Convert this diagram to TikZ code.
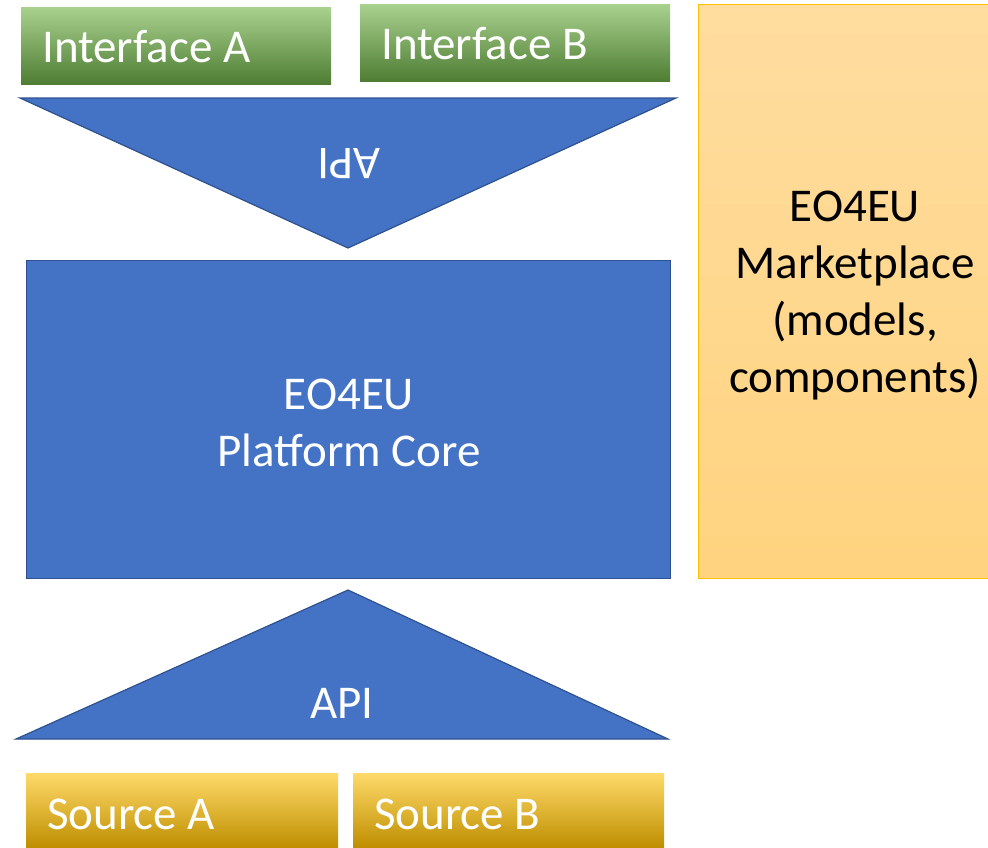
\documentclass[tikz,border=0pt]{standalone}
\usepackage{fontspec}
\setmainfont{Carlito}
\definecolor{gtop}{HTML}{A9D18E}
\definecolor{gmid}{HTML}{70AD47}
\definecolor{gbot}{HTML}{4E7D33}
\definecolor{ytop}{HTML}{FFDA6A}
\definecolor{ymid}{HTML}{FFC000}
\definecolor{ybot}{HTML}{BF8F00}
\definecolor{blu}{HTML}{4472C4}
\definecolor{bluedge}{HTML}{2F528F}
\definecolor{otop}{HTML}{FFDDA0}
\definecolor{obot}{HTML}{FFD37F}
\definecolor{oedge}{HTML}{FFC000}
\tikzset{
  bigfont/.style={font=\fontsize{47}{57}\selectfont},
  gbox/.style={rectangle, anchor=north west, inner sep=0pt, top color=gtop, middle color=gmid, bottom color=gbot, minimum width=310pt, minimum height=77pt},
  ybox/.style={rectangle, anchor=north west, inner sep=0pt, top color=ytop, middle color=ymid, bottom color=ybot, minimum height=74pt},
  boxtext/.style={bigfont, text=white, anchor=base west, inner sep=0pt},
  blueshape/.style={fill=blu, draw=bluedge, line width=1.2pt, line join=miter},
  wtext/.style={bigfont, text=white, align=center, inner sep=0pt},
}
\begin{document}
\begin{tikzpicture}[x=1pt,y=-1pt]
\useasboundingbox (0,0) rectangle (988,847);
% interfaces
\node[gbox] (ifa) at (21,7) {};
\node[boxtext] (ifatext) at (42,62) {Interface A};
\node[gbox] (ifb) at (360,4) {};
\node[boxtext] (ifbtext) at (381,59) {Interface B};
% top API triangle
\draw[blueshape] (20,98) -- (676,98) -- (348,248) -- cycle;
\node[wtext, rotate=180] (apitop) at (349,164) {API};
% core
\node[rectangle, blueshape, anchor=north west, minimum width=644pt, minimum height=318pt] (core) at (26,260) {};
\node[wtext, anchor=center] (coretext) at (349,423) {EO4EU\\Platform Core};
% bottom API triangle
\draw[blueshape] (16,739) -- (668,739) -- (348,590) -- cycle;
\node[wtext, anchor=base] (apibot) at (342,718) {API};
% sources
\node[ybox, minimum width=312pt] (srca) at (26,773) {};
\node[boxtext] (srcatext) at (47,829) {Source A};
\node[ybox, minimum width=311pt] (srcb) at (353,773) {};
\node[boxtext] (srcbtext) at (374,829) {Source B};
% marketplace
\node[rectangle, anchor=north west, inner sep=0pt, top color=otop, bottom color=obot, draw=oedge, line width=1pt, minimum width=292pt, minimum height=574pt] (market) at (698,4) {};
\node[bigfont, align=center, inner sep=0pt, text=black] (markettext) at (855,296) {EO4EU\\Marketplace\\(models,\\components)};
\end{tikzpicture}
\end{document}
